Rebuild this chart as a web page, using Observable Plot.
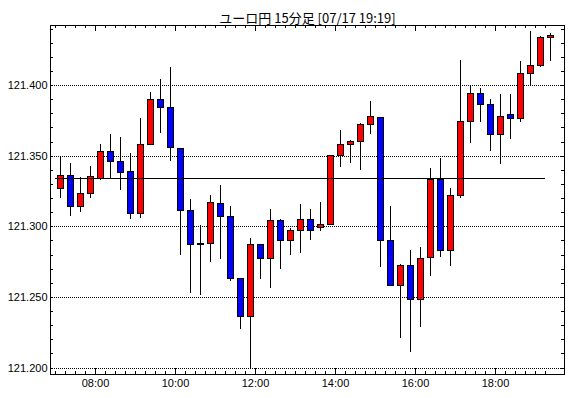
<!DOCTYPE html>
<html><head><meta charset="utf-8">
<script src="https://cdn.jsdelivr.net/npm/d3@7"></script>
<script src="https://cdn.jsdelivr.net/npm/@observablehq/plot@0.6"></script>
<style>
html,body{margin:0;padding:0;background:#fff;}
</style></head><body><div id="chart"></div>
<script>
const title = "ユーロ円 15分足 [07/17 19:19]";
const times = ["07:00","07:15","07:30","07:45","08:00","08:15","08:30","08:45","09:00","09:15",
  "09:30","09:45","10:00","10:15","10:30","10:45","11:00","11:15","11:30","11:45",
  "12:00","12:15","12:30","12:45","13:00","13:15","13:30","13:45","14:00","14:15",
  "14:30","14:45","15:00","15:15","15:30","15:45","16:00","16:15","16:30","16:45",
  "17:00","17:15","17:30","17:45","18:00","18:15","18:30","18:45","19:00","19:15"];
const open = [121.327,121.336,121.314,121.323,121.334,121.353,121.346,121.339,121.309,121.358,
  121.390,121.384,121.355,121.311,121.287,121.288,121.316,121.307,121.263,121.236,
  121.287,121.277,121.304,121.290,121.297,121.305,121.299,121.301,121.350,121.358,
  121.360,121.372,121.377,121.290,121.258,121.272,121.248,121.278,121.333,121.283,
  121.322,121.374,121.394,121.386,121.365,121.379,121.376,121.408,121.414,121.434];
const high = [121.350,121.345,121.335,121.343,121.358,121.365,121.363,121.352,121.377,121.395,
  121.404,121.413,121.355,121.319,121.301,121.322,121.329,121.314,121.263,121.292,
  121.287,121.312,121.305,121.299,121.316,121.312,121.317,121.350,121.368,121.361,
  121.373,121.389,121.377,121.314,121.273,121.283,121.285,121.341,121.348,121.327,
  121.418,121.400,121.398,121.390,121.394,121.394,121.417,121.438,121.435,121.437];
const low = [121.320,121.307,121.310,121.320,121.333,121.334,121.326,121.305,121.306,121.358,
  121.366,121.346,121.280,121.253,121.251,121.275,121.277,121.261,121.227,121.200,
  121.263,121.256,121.270,121.280,121.281,121.290,121.297,121.301,121.342,121.345,
  121.340,121.365,121.271,121.258,121.221,121.211,121.229,121.265,121.278,121.272,
  121.320,121.359,121.374,121.353,121.344,121.362,121.374,121.399,121.413,121.417];
const close = [121.336,121.314,121.323,121.335,121.353,121.346,121.338,121.309,121.358,121.390,
  121.384,121.356,121.311,121.287,121.288,121.317,121.307,121.263,121.236,121.287,
  121.277,121.304,121.290,121.297,121.305,121.297,121.301,121.350,121.358,121.360,
  121.372,121.378,121.290,121.258,121.272,121.248,121.277,121.333,121.283,121.322,
  121.374,121.394,121.386,121.365,121.378,121.376,121.408,121.414,121.434,121.435];
const refLevel = 121.334;
const refStart = "07:00", refEnd = "19:15";
const yLabels = [121.200, 121.250, 121.300, 121.350, 121.400];
const xLabels = ["08:00","10:00","12:00","14:00","16:00","18:00"];

const toMin = s => { const [h, m] = s.split(":").map(Number); return h * 60 + m; };
const fmtMin = m => String(Math.floor(m / 60)).padStart(2, "0") + ":" + String(m % 60).padStart(2, "0");
const bars = times.map((t, i) => ({t: toMin(t), o: open[i], h: high[i], l: low[i], c: close[i]}));
const up = bars.filter(d => d.c >= d.o), down = bars.filter(d => d.c < d.o);
const W = 570, H = 398, mL = 50, mR = 6, mT = 25, mB = 24;
const pw = W - mL - mR, ph = H - mT - mB;
const yMinor = d3.range(0, 25).map(i => +(121.20 + i * 0.01).toFixed(2));
const xMinor = times.map(toMin);
const xMajor = xLabels.map(toMin);
const crisp = {shapeRendering: "crispEdges"};
const tickStyle = {stroke: "#000", strokeWidth: 1, ...crisp};

const chart = Plot.plot({
  width: W, height: H,
  marginLeft: mL, marginRight: mR, marginTop: mT, marginBottom: mB,
  style: {fontFamily: "'Liberation Sans', Arial, sans-serif", fontSize: "11px", background: "#fff", color: "#000"},
  x: {domain: [412.5, 1183.5]},
  y: {domain: [121.1954, 121.4425]},
  marks: [
    Plot.ruleY(yLabels, {y: d => d, stroke: "#000", strokeDasharray: "1,1", ...crisp}),
    Plot.ruleX(bars, {x: d => d.t + 7.5, y1: "l", y2: "h", stroke: "#000", strokeWidth: 1, ...crisp}),
    Plot.rect(up, {x1: "t", x2: d => d.t + 15, y1: "o", y2: "c", fill: "#ff0000", stroke: "#000", strokeWidth: 1, insetLeft: 2, insetRight: 2, ...crisp}),
    Plot.rect(down, {x1: "t", x2: d => d.t + 15, y1: "o", y2: "c", fill: "#0000ff", stroke: "#000", strokeWidth: 1, insetLeft: 2, insetRight: 2, ...crisp}),
    Plot.ruleY([{y: refLevel, x1: toMin(refStart), x2: toMin(refEnd)}], {y: "y", x1: "x1", x2: "x2", stroke: "#000", strokeWidth: 1, ...crisp}),
    Plot.tickY(yMinor, {y: d => d, insetRight: pw - 3, ...tickStyle}),
    Plot.tickY(yMinor, {y: d => d, insetLeft: pw - 3, ...tickStyle}),
    Plot.tickX(xMinor, {x: d => d, insetTop: ph - 3, ...tickStyle}),
    Plot.tickX(xMinor, {x: d => d, insetBottom: ph - 3, ...tickStyle}),
    Plot.tickX(xMajor, {x: d => d, insetTop: ph - 6, ...tickStyle}),
    Plot.tickX(xMajor, {x: d => d, insetBottom: ph - 6, ...tickStyle}),
    Plot.frame({stroke: "#000", strokeWidth: 1, ...crisp}),
    Plot.axisY(yLabels, {anchor: "left", tickSize: 0, tickPadding: 3, tickFormat: d3.format(".3f"), label: null}),
    Plot.axisX(xMajor, {anchor: "bottom", tickSize: 0, tickPadding: 5, tickFormat: fmtMin, label: null}),
    Plot.text([title], {frameAnchor: "top", dy: -12, text: d => d, fontFamily: "'Noto Sans CJK JP', sans-serif", fontSize: 13, fill: "#000"})
  ]
});
document.getElementById("chart").appendChild(chart);
</script></body></html>
